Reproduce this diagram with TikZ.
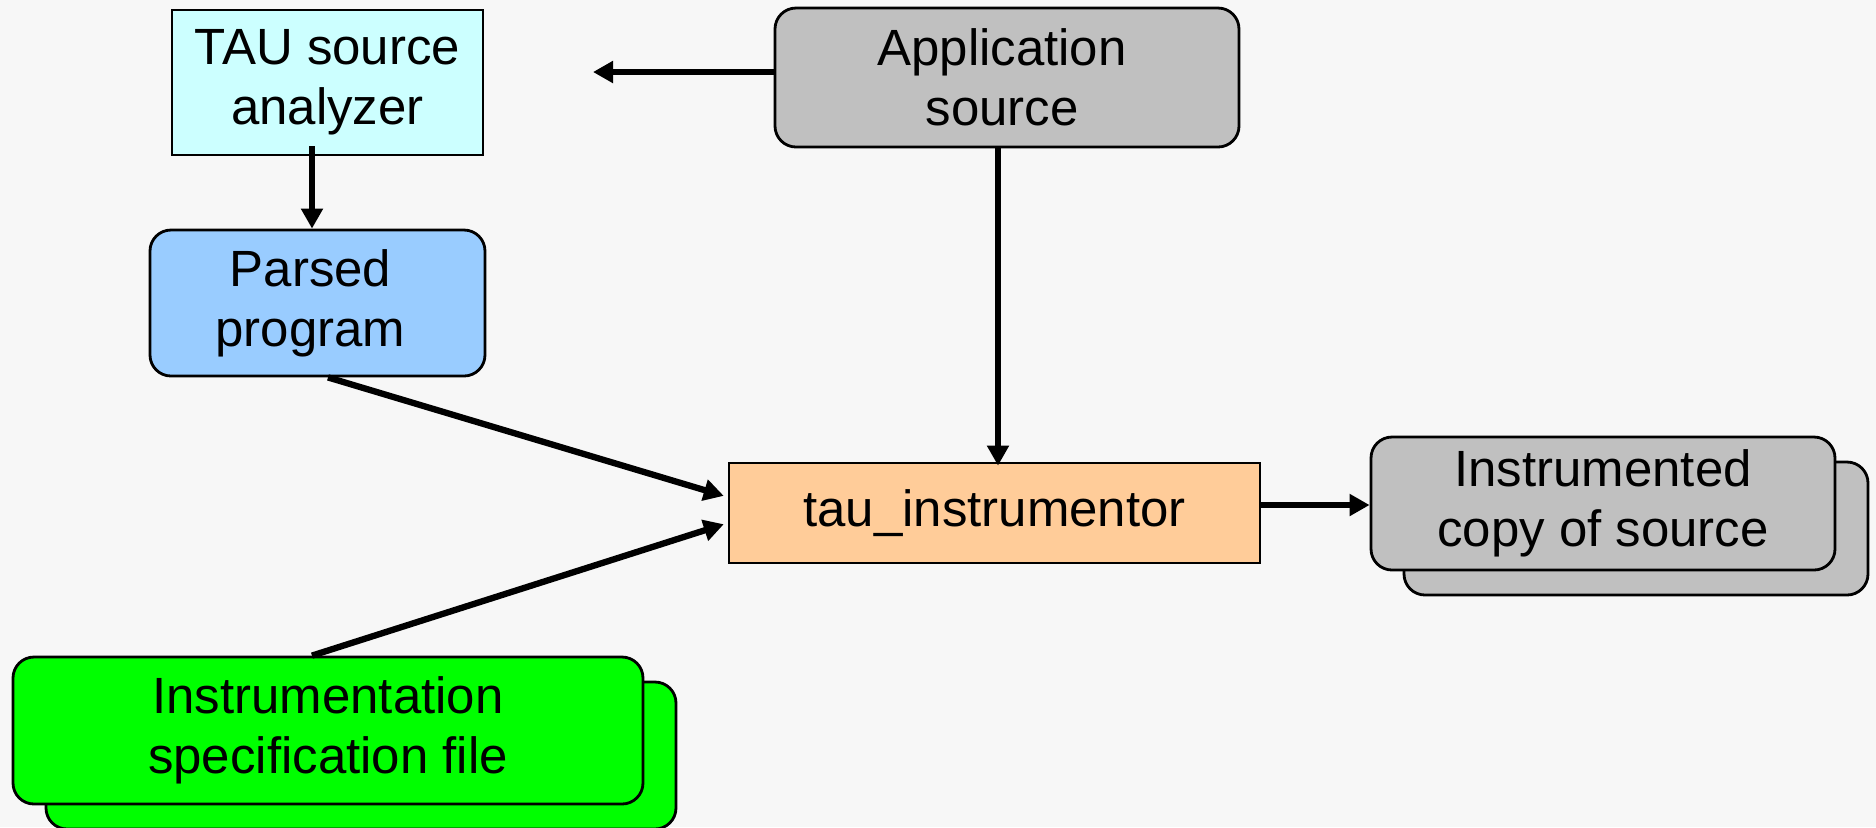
\documentclass[tikz,border=0pt]{standalone}
\usepackage{fontspec}
\setmainfont{Liberation Sans}
\usetikzlibrary{arrows.meta,calc}
\definecolor{bgc}{HTML}{F7F7F7}
\definecolor{cyanbox}{HTML}{CCFFFF}
\definecolor{bluebox}{HTML}{99CCFF}
\definecolor{greybox}{HTML}{C0C0C0}
\definecolor{orangebox}{HTML}{FFCC99}
\definecolor{greenbox}{HTML}{00FF00}
\begin{document}
\begin{tikzpicture}[
  box/.style={draw=black, line width=0.8pt, align=center, inner sep=0pt, text=black,
              font=\fontsize{14.5}{17}\selectfont},
  rbox/.style={box, rounded corners=0.21cm},
  arr/.style={line width=1.8pt, -{Triangle[length=0.2cm,width=0.21cm]}},
]
\fill[bgc] (0,0) rectangle (18.76,-8.27);
\useasboundingbox (0,0) rectangle (18.76,-8.27);

% nodes
\node[box, fill=cyanbox, minimum width=3.11cm, minimum height=1.45cm] (analyzer) at (3.275,-0.825) {TAU source\\analyzer};
\node[rbox, fill=greybox, minimum width=4.64cm, minimum height=1.39cm] (app) at (10.07,-0.775) {Application\kern0.1cm\\source\kern0.1cm};
\node[rbox, fill=bluebox, minimum width=3.35cm, minimum height=1.46cm] (parsed) at (3.175,-3.03) {Parsed\kern0.14cm\\program\kern0.14cm};
\node[box, fill=orangebox, minimum width=5.31cm, minimum height=1.00cm] (tau) at (9.945,-5.13) {tau\_instrumentor};

\node[rbox, fill=greybox, minimum width=4.64cm, minimum height=1.33cm] (instrB) at (16.36,-5.285) {};
\node[rbox, fill=greybox, minimum width=4.64cm, minimum height=1.33cm] (instr) at (16.03,-5.035) {Instrumented\\copy of source};

\node[rbox, fill=greenbox, minimum width=6.30cm, minimum height=1.47cm] (specB) at (3.61,-7.555) {};
\node[rbox, fill=greenbox, minimum width=6.30cm, minimum height=1.47cm] (spec) at (3.28,-7.305) {Instrumentation\\specification file};

% connectors
\coordinate (aw) at ([yshift=0.055cm]app.west);
\coordinate (tipL) at (5.93,-0.72);
\draw[arr] (aw) -- (tipL |- aw);

\coordinate (pa) at ([xshift=-0.055cm]parsed.north);
\draw[arr] (pa |- analyzer.south) ++(0,0.10) -- (pa);

\coordinate (ax) at ([xshift=-0.09cm]app.south);
\draw[arr, shorten >=-0.04cm] (ax) -- (ax |- tau.north);

\draw[arr, shorten >=0.04cm] ([xshift=0.105cm]parsed.south) -- ([yshift=0.16cm]tau.west);
\draw[arr, shorten >=0.04cm] ([xshift=-0.16cm]spec.north) -- ([yshift=-0.10cm]tau.west);

\coordinate (te) at ([yshift=0.08cm]tau.east);
\draw[arr] (te) -- (te -| instr.west);
\end{tikzpicture}
\end{document}
